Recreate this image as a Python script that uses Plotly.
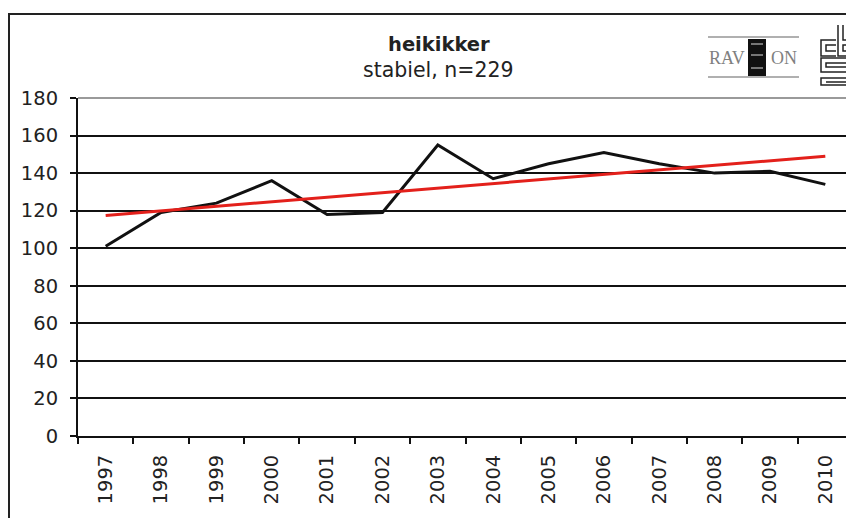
import numpy as np
import plotly.graph_objects as go

years = ["1997", "1998", "1999", "2000", "2001", "2002", "2003",
         "2004", "2005", "2006", "2007", "2008", "2009", "2010"]
index_values = [101, 119, 124, 136, 118, 119, 155, 137, 145, 151, 145, 140, 141, 134]
y_ticks = [0, 20, 40, 60, 80, 100, 120, 140, 160, 180]
title_text = "heikikker"
subtitle_text = "stabiel, n=229"

# page body has an 8px margin, so the figure is laid out 8px up-left
OFF = 8
W, H = 854 - OFF, 518 - OFF
L, R, T, B = 78 - OFF, 853 - OFF, 98 - OFF, 436 - OFF


def px(x):
    return (x - OFF - L) / (R - L)


def py(y):
    return (B - (y - OFF)) / (B - T)


idx = np.arange(len(years))
slope, intercept = np.polyfit(idx, index_values, 1)
trend = slope * idx + intercept

fig = go.Figure()
fig.add_trace(go.Scatter(x=years, y=index_values, mode="lines",
                         line=dict(color="#111111", width=3), showlegend=False))
fig.add_trace(go.Scatter(x=years, y=trend, mode="lines",
                         line=dict(color="#e3201b", width=3), showlegend=False))

font_family = "DejaVu Sans, Verdana, sans-serif"
tick_size = 19.5

fig.update_layout(
    width=W, height=H, autosize=False,
    margin=dict(l=L, r=W - R, t=T, b=H - B, pad=0),
    paper_bgcolor="white", plot_bgcolor="white",
    font=dict(family=font_family, size=tick_size, color="#222222"),
    xaxis=dict(type="category", range=[-0.5, len(years) - 0.5],
               tickson="boundaries", ticks="outside", ticklen=6,
               tickcolor="#111", tickwidth=1.5, tickangle=-90, showgrid=False,
               showline=True, linecolor="#111", linewidth=2, zeroline=False,
               ticklabelstandoff=9, tickfont=dict(size=tick_size)),
    yaxis=dict(range=[0, 180], tickvals=y_ticks, ticks="outside", ticklen=6,
               tickcolor="#111", tickwidth=1.5, showgrid=True, gridcolor="#111",
               gridwidth=1.5, showline=True, linecolor="#111", linewidth=2,
               zeroline=False, ticklabelstandoff=8, tickfont=dict(size=tick_size)),
)

shapes = []
# outer chart border
shapes.append(dict(type="rect", xref="paper", yref="paper",
                   x0=px(9), x1=px(880), y0=py(14), y1=py(540),
                   line=dict(color="#222", width=2), layer="above"))
# plot area border top and right (gray)
shapes.append(dict(type="line", xref="paper", yref="paper", x0=0, x1=1, y0=1, y1=1,
                   line=dict(color="#9a9a9a", width=2), layer="above"))
shapes.append(dict(type="line", xref="paper", yref="paper", x0=1, x1=1, y0=0, y1=1,
                   line=dict(color="#9a9a9a", width=2), layer="above"))

# RAVON logo lines and box
for yy in (37, 77):
    shapes.append(dict(type="line", xref="paper", yref="paper",
                       x0=px(708), x1=px(799), y0=py(yy), y1=py(yy),
                       line=dict(color="#b0b0b0", width=2), layer="above"))
shapes.append(dict(type="rect", xref="paper", yref="paper",
                   x0=px(748), x1=px(766), y0=py(39), y1=py(76),
                   fillcolor="#111", line=dict(width=0), layer="above"))
for yy in (44, 55, 68):
    shapes.append(dict(type="line", xref="paper", yref="paper",
                       x0=px(751), x1=px(763), y0=py(yy), y1=py(yy),
                       line=dict(color="#dddddd", width=1), layer="above"))


def path(points, close=False):
    s = "M " + " L ".join(f"{px(x):.5f},{py(y):.5f}" for x, y in points)
    return s + (" Z" if close else "")


cbs_paths = [
    [(836, 40), (821, 40), (821, 56), (836, 56)],
    [(836, 45), (826, 45), (826, 51), (836, 51)],
    [(838, 25), (838, 56), (856, 56)],
    [(843, 25), (843, 40), (856, 40)],
    [(856, 58), (821, 58), (821, 72), (849, 72), (849, 78), (821, 78), (821, 85), (856, 85)],
    [(856, 63), (826, 63), (826, 67), (854, 67), (854, 82), (826, 82)],
]
for p in cbs_paths:
    shapes.append(dict(type="path", xref="paper", yref="paper", path=path(p),
                       line=dict(color="#222", width=1.5), layer="above"))
shapes.append(dict(type="path", xref="paper", yref="paper",
                   path=path([(843, 45), (850, 45), (850, 51), (843, 51)], close=True),
                   line=dict(color="#222", width=1.5), layer="above"))

fig.update_layout(shapes=shapes)

annotations = [
    dict(text="<b>" + title_text + "</b>", x=px(439), y=py(45), xref="paper", yref="paper",
         showarrow=False, xanchor="center", yanchor="middle",
         font=dict(family=font_family, size=19.5, color="#222")),
    dict(text=subtitle_text, x=px(438), y=py(70), xref="paper", yref="paper",
         showarrow=False, xanchor="center", yanchor="middle",
         font=dict(family=font_family, size=20.5, color="#222")),
    dict(text="RAV", x=px(727), y=py(58), xref="paper", yref="paper",
         showarrow=False, xanchor="center", yanchor="middle",
         font=dict(family="Liberation Serif, serif", size=18, color="#808080")),
    dict(text="ON", x=px(784), y=py(58), xref="paper", yref="paper",
         showarrow=False, xanchor="center", yanchor="middle",
         font=dict(family="Liberation Serif, serif", size=18, color="#808080")),
]
fig.update_layout(annotations=annotations)

fig.write_html("out.html")
